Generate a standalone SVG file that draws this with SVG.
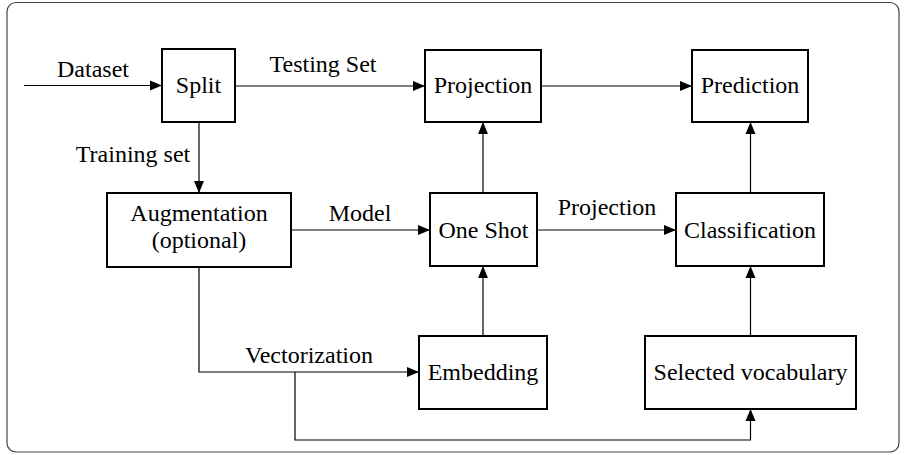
<svg xmlns="http://www.w3.org/2000/svg" width="906" height="455" viewBox="0 0 906 455">
<defs>
<style type="text/css">
.box{fill:#fff;stroke:#000;stroke-width:2}
.t{font-family:"Liberation Serif","DejaVu Serif","Noto Serif",serif;font-size:24px;fill:#000;text-anchor:middle}
.c{fill:none;stroke:#000;stroke-width:1.2}
</style>
<marker id="ah" markerUnits="userSpaceOnUse" markerWidth="14" markerHeight="12" viewBox="0 0 14 12" refX="13" refY="6" orient="auto">
<path d="M1,1 L13,6 L1,11 Z" fill="#000"/>
</marker>
</defs>
<rect x="7" y="2.5" width="892" height="449.5" rx="9" fill="#fff" stroke="#444" stroke-width="1.2"/>
<g id="connectors">
<line class="c" x1="24" y1="85.5" x2="162" y2="85.5" marker-end="url(#ah)"/>
<line class="c" x1="235" y1="86" x2="425" y2="86" marker-end="url(#ah)"/>
<line class="c" x1="541" y1="86" x2="692" y2="86" marker-end="url(#ah)"/>
<line class="c" x1="199" y1="122" x2="199" y2="193" marker-end="url(#ah)"/>
<line class="c" x1="291" y1="230" x2="430" y2="230" marker-end="url(#ah)"/>
<line class="c" x1="483" y1="193" x2="483" y2="122" marker-end="url(#ah)"/>
<line class="c" x1="537" y1="230" x2="676" y2="230" marker-end="url(#ah)"/>
<line class="c" x1="750.5" y1="193" x2="750.5" y2="122" marker-end="url(#ah)"/>
<line class="c" x1="483" y1="336" x2="483" y2="266" marker-end="url(#ah)"/>
<line class="c" x1="750.5" y1="336" x2="750.5" y2="266" marker-end="url(#ah)"/>
<path class="c" d="M199,267 V372 H419" marker-end="url(#ah)"/>
<path class="c" d="M295,372 V440 H750.5 V409" marker-end="url(#ah)"/>
</g>
<g id="labels">
<text class="t" x="93" y="77">Dataset</text>
<text class="t" x="323" y="72">Testing Set</text>
<text class="t" x="133" y="162">Training set</text>
<text class="t" x="360" y="221">Model</text>
<text class="t" x="607" y="215">Projection</text>
<text class="t" x="309" y="363">Vectorization</text>
</g>
<g id="split"><rect class="box" x="162" y="49" width="73" height="73"/><text class="t" x="198.5" y="93">Split</text></g>
<g id="projection"><rect class="box" x="425" y="50" width="116" height="72"/><text class="t" x="483" y="93">Projection</text></g>
<g id="prediction"><rect class="box" x="692" y="50" width="116" height="72"/><text class="t" x="750" y="93">Prediction</text></g>
<g id="augmentation"><rect class="box" x="107" y="193" width="184" height="74"/><text class="t" x="199" y="221">Augmentation</text><text class="t" x="199" y="248">(optional)</text></g>
<g id="oneshot"><rect class="box" x="430" y="193" width="107" height="73"/><text class="t" x="483.5" y="238">One Shot</text></g>
<g id="classification"><rect class="box" x="676" y="193" width="148" height="73"/><text class="t" x="750" y="238">Classification</text></g>
<g id="embedding"><rect class="box" x="419" y="336" width="128" height="73"/><text class="t" x="483" y="380">Embedding</text></g>
<g id="vocabulary"><rect class="box" x="645" y="336" width="211" height="73"/><text class="t" x="750.5" y="380">Selected vocabulary</text></g>
</svg>
